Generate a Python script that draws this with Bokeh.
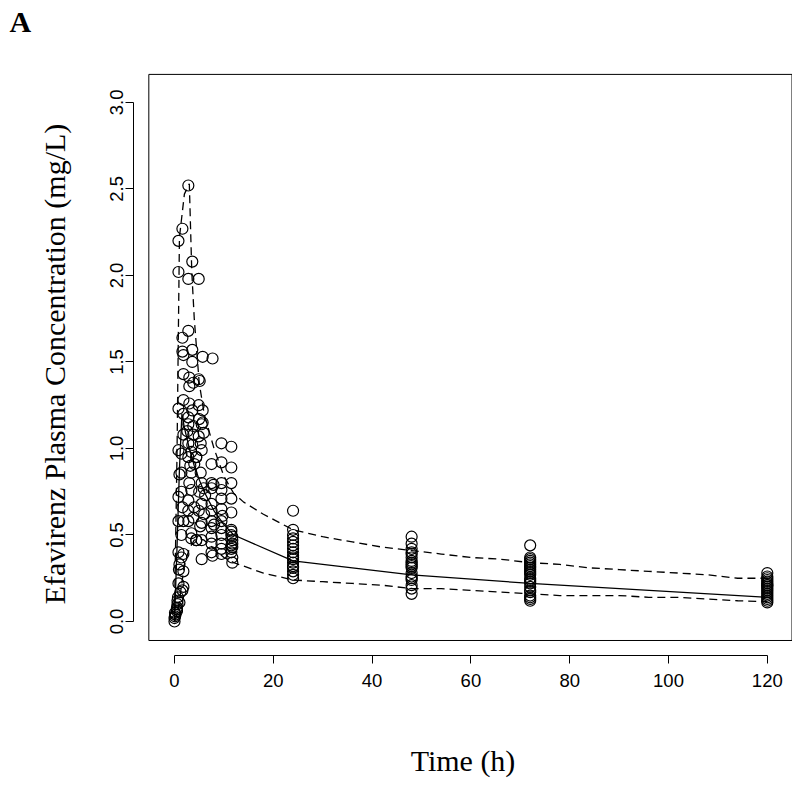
import math
from bokeh.plotting import figure
from bokeh.models import BoxAnnotation, FixedTicker, PrintfTickFormatter, Title
from bokeh.embed import file_html
from bokeh.resources import INLINE

# ---- observed concentrations (time h, conc mg/L) ----
obs_time = (
    [0.0, 0.0, 0.1, 0.2, 0.1]
    + [0.5, 0.5, 0.6, 0.6, 0.7, 0.5]
    + [0.8, 0.8, 0.8, 0.8, 0.8, 0.8, 0.8, 0.8, 1.0, 1.2, 1.0, 0.9, 1.0]
    + [1.6, 1.6, 1.6, 1.8, 1.8, 1.8, 1.8, 1.4, 1.4, 1.8, 1.4, 1.8, 1.4, 1.8, 1.8, 1.6, 1.4, 1.8, 1.6]
    + [2.8, 2.8, 2.8, 3.0, 3.0, 2.8, 2.8, 2.8, 2.8, 3.2, 2.8, 2.8, 2.8, 3.4, 3.0, 3.0, 2.6]
    + [3.6, 3.6, 3.6, 3.8, 3.6, 3.8, 3.8, 3.4, 3.4, 3.4, 3.4, 4.4, 4.4, 4.0, 3.8, 4.0, 3.6]
    + [4.9, 4.9, 5.1, 4.9, 4.9, 5.3, 4.4, 5.3, 4.9, 4.4, 5.0, 5.2, 5.0]
    + [5.7, 5.7, 5.7, 5.5, 5.9, 5.5, 5.5, 5.9, 5.5, 5.5, 5.5, 5.5, 6.2, 6.0]
    + [7.7, 7.5, 7.5, 7.5, 7.5, 7.5, 7.5, 7.5, 7.5, 7.5, 7.5, 7.7, 7.9, 8.0]
    + [9.5, 9.5, 9.5, 9.5, 9.5, 9.5, 9.5, 9.5, 9.5, 9.5, 9.5, 9.5, 9.7]
    + [11.5, 11.5, 11.5, 11.5, 11.5, 11.5, 11.5, 11.7, 11.7, 11.7, 11.5, 11.5, 11.7, 11.7, 11.5, 11.7, 11.5]
    + [24.0] * 17
    + [48.0] * 18
    + [72.0] * 23
    + [120.0] * 18
)
obs_conc = (
    [0.00, 0.02, 0.03, 0.04, 0.05]
    + [0.06, 0.08, 0.10, 0.12, 0.14, 0.07]
    + [2.20, 2.02, 1.23, 0.99, 0.72, 0.58, 0.40, 0.22, 0.33, 0.17, 0.11, 0.30, 0.85]
    + [2.27, 1.64, 1.56, 1.54, 1.43, 1.28, 1.20, 0.86, 0.75, 0.58, 0.50, 0.39, 0.37, 0.29, 0.20, 0.18, 0.97, 1.08, 0.66]
    + [2.52, 1.98, 1.68, 1.41, 1.36, 1.18, 1.14, 1.03, 0.95, 0.90, 0.70, 0.64, 0.58, 0.51, 0.80, 1.26, 1.10]
    + [2.08, 1.57, 1.50, 1.38, 1.22, 1.13, 1.08, 0.98, 0.86, 0.76, 0.48, 0.95, 0.47, 0.66, 0.60, 0.91, 1.02]
    + [1.98, 1.40, 1.39, 1.25, 1.07, 1.03, 0.95, 0.86, 0.64, 0.47, 0.75, 0.55, 1.17]
    + [1.53, 1.22, 1.15, 1.14, 1.09, 0.99, 0.80, 0.77, 0.68, 0.57, 0.47, 0.36, 0.73, 0.62]
    + [1.52, 0.91, 0.80, 0.77, 0.68, 0.64, 0.58, 0.54, 0.49, 0.45, 0.40, 0.38, 0.79, 0.56]
    + [1.03, 0.92, 0.80, 0.76, 0.71, 0.65, 0.58, 0.54, 0.50, 0.45, 0.42, 0.39, 0.61]
    + [1.01, 0.89, 0.80, 0.71, 0.63, 0.53, 0.50, 0.49, 0.47, 0.45, 0.44, 0.40, 0.37, 0.34, 0.52, 0.43, 0.42]
    + [0.64, 0.53, 0.50, 0.48, 0.46, 0.44, 0.42, 0.40, 0.38, 0.36, 0.34, 0.32, 0.31, 0.29, 0.27, 0.25, 0.37]
    + [0.49, 0.45, 0.42, 0.40, 0.39, 0.37, 0.35, 0.34, 0.32, 0.31, 0.28, 0.26, 0.25, 0.24, 0.21, 0.19, 0.16, 0.33]
    + [0.44, 0.37, 0.36, 0.35, 0.34, 0.33, 0.32, 0.31, 0.30, 0.29, 0.28, 0.27, 0.25, 0.24,
       0.23, 0.22, 0.20, 0.18, 0.17, 0.15, 0.14, 0.13, 0.12]
    + [0.28, 0.26, 0.25, 0.24, 0.23, 0.22, 0.21, 0.20, 0.19, 0.18, 0.17, 0.16, 0.15, 0.14,
       0.13, 0.12, 0.11, 0.21]
)

# ---- model prediction: median (solid) ----
med_time = [0, 0.5, 1, 1.5, 2, 3, 4, 5, 6, 8, 10, 12, 24, 48, 72, 120]
med_conc = [0.0, 0.42, 0.88, 1.20, 1.12, 1.00, 0.90, 0.82, 0.75, 0.64, 0.56, 0.50, 0.35, 0.27, 0.22, 0.14]

# ---- 95th percentile (upper dashed) ----
p95_time = [0, 0.5, 1, 2, 3, 3.5, 4, 5, 6, 8, 10, 12, 14, 18, 24, 30, 36, 42, 48, 54,
            60, 66, 72, 78, 84, 90, 96, 102, 108, 114, 120]
p95_conc = [0.05, 0.95, 2.22, 2.47, 2.53, 2.02, 1.75, 1.38, 1.20, 1.00, 0.84, 0.74, 0.69, 0.62,
            0.53, 0.49, 0.46, 0.43, 0.41, 0.39, 0.37, 0.36, 0.34, 0.33, 0.31, 0.30, 0.29, 0.28,
            0.27, 0.25, 0.25]

# ---- 5th percentile (lower dashed) ----
p05_time = [0, 0.5, 1, 2, 3, 4, 5, 6, 8, 10, 12, 18, 24, 30, 36, 42, 48, 54, 60, 66, 72,
            78, 84, 90, 96, 102, 108, 114, 120]
p05_conc = [0.0, 0.04, 0.12, 0.33, 0.42, 0.47, 0.48, 0.47, 0.42, 0.37, 0.34, 0.28, 0.24, 0.23,
            0.22, 0.21, 0.19, 0.19, 0.18, 0.17, 0.16, 0.15, 0.15, 0.15, 0.14, 0.14, 0.13, 0.12, 0.115]

x_ticks = [0, 20, 40, 60, 80, 100, 120]
y_ticks = [0.0, 0.5, 1.0, 1.5, 2.0, 2.5, 3.0]
panel_tag = "A"

p = figure(width=792, height=784, x_range=(-8.3, 125.1), y_range=(-0.1965, 3.173),
           min_border_left=133, min_border_right=0, min_border_top=72, min_border_bottom=129,
           output_backend="svg", toolbar_location=None)

# spacer title (closest to the frame) pushes the panel tag up to the top edge
spacer = Title(text=" ", text_font_size="10px", standoff=18)
p.add_layout(spacer, "above")
tag = Title(text=panel_tag, text_font="Liberation Serif", text_font_style="bold",
            text_font_size="30px", text_color="black", align="left", offset=-124,
            vertical_align="top", standoff=4)
p.add_layout(tag, "above")

p.grid.visible = False
p.outline_line_color = None
p.background_fill_color = "white"
p.border_fill_color = "white"

box = BoxAnnotation(left=-5.2, right=125.0, bottom=-0.1098, top=3.162,
                    fill_alpha=0, line_color="black", line_alpha=1.0, line_width=1)
p.add_layout(box)

for ax in (p.xaxis[0], p.yaxis[0]):
    ax.axis_line_color = "black"
    ax.axis_line_width = 1
    ax.major_tick_line_color = "black"
    ax.major_tick_in = 0
    ax.major_tick_out = 8
    ax.minor_tick_line_color = None
    ax.major_label_text_font = "Liberation Sans"
    ax.major_label_text_font_size = "18.5px"
    ax.major_label_text_color = "black"
    ax.axis_label_text_font = "Liberation Serif"
    ax.axis_label_text_font_size = "30px"
    ax.axis_label_text_font_style = "normal"
    ax.axis_label_text_color = "black"

p.xaxis.bounds = (0, 120)
p.xaxis.ticker = FixedTicker(ticks=x_ticks)
p.xaxis.major_label_standoff = 10
p.xaxis.axis_label = "Time (h)"
p.xaxis.axis_label_standoff = 54

p.yaxis.bounds = (0, 3)
p.yaxis.ticker = FixedTicker(ticks=y_ticks)
p.yaxis.formatter = PrintfTickFormatter(format="%.1f")
p.yaxis.major_label_orientation = "vertical"
p.yaxis.major_label_standoff = 2
p.yaxis.axis_label = "Efavirenz Plasma Concentration (mg/L)"
p.yaxis.axis_label_standoff = 37

p.line(p95_time, p95_conc, line_color="black", line_width=1.3, line_dash="8 5")
p.line(p05_time, p05_conc, line_color="black", line_width=1.3, line_dash="8 5")
p.line(med_time, med_conc, line_color="black", line_width=1.3)
p.scatter(obs_time, obs_conc, marker="circle", size=11, fill_color=None,
          line_color="black", line_width=1.2)

open("out.html", "w").write(file_html(p, INLINE))
